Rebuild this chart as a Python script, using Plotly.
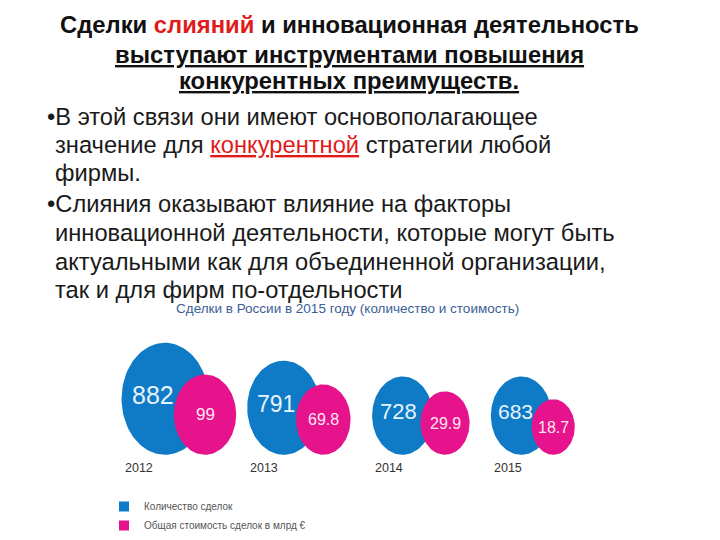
import numpy as np
import plotly.graph_objects as go

# ---------------- data ----------------
years = [2012, 2013, 2014, 2015]
deal_counts = [882, 791, 728, 683]          # количество сделок
deal_values = [99, 69.8, 29.9, 18.7]        # общая стоимость, млрд €
count_labels = ["882", "791", "728", "683"]
value_labels = ["99", "69.8", "29.9", "18.7"]
series_names = ["Количество сделок", "Общая стоимость сделок в млрд €"]
chart_title = "Сделки в России в 2015 году (количество и стоимость)"

heading_lines = [
    "Сделки <span style='color:#e01b1b'>слияний</span> и инновационная деятельность",
    "выступают инструментами повышения",
    "конкурентных преимуществ.",
]
body_lines = [
    "•В этой связи они имеют основополагающее",
    "значение для <span style='color:#e3191a;text-decoration:underline'>конкурентной</span> стратегии любой",
    "фирмы.",
    "•Слияния оказывают влияние на факторы",
    "инновационной деятельности, которые могут быть",
    "актуальными как для объединенной организации,",
    "так и для фирм по-отдельности",
]

# ---------------- layout / style ----------------
W, H = 720, 540
BLUE, PINK = "#0f7ac6", "#e6138c"
NARROW = "Liberation Sans, Arial, sans-serif"
SANS = "Liberation Sans, Arial, sans-serif"

PX_PER_YEAR = 118.75
X0_PX = 165.0                       # pixel position of first year
x_lo = years[0] - X0_PX / PX_PER_YEAR
x_hi = x_lo + W / PX_PER_YEAR

BASE_PX = 459                       # common bottom of bubbles
ASPECT = 1.3                        # bubbles are slightly tall ellipses
BLUE_RY = [56.5, 47.5, 39.5, 39.5]
PINK_RY = [40.5, 35.5, 32.0, 28.0]
PINK_DX = [40, 39.5, 42.5, 32]
BLUE_TXT_DX = [-12, -7.5, -4, -5.5]
BLUE_TXT_SIZE = [25, 23, 22, 21]
PINK_TXT_SIZE = [17, 16, 16, 16]


def ellipse(cx, cy, rx_px, ry_px):
    t = np.linspace(0, 2 * np.pi, 121)
    return (list(cx + rx_px / PX_PER_YEAR * np.cos(t)) + [None],
            list(cy + ry_px * np.sin(t)) + [None])


fig = go.Figure()

centers = {"blue": [], "pink": []}
bx, by, px_, py_ = [], [], [], []
for i, yr in enumerate(years):
    cyb = BASE_PX - BLUE_RY[i]
    ex, ey = ellipse(yr, cyb, BLUE_RY[i] / ASPECT, BLUE_RY[i])
    bx += ex; by += ey
    centers["blue"].append((yr, cyb))
    cxp = yr + PINK_DX[i] / PX_PER_YEAR
    cyp = BASE_PX - PINK_RY[i]
    ex, ey = ellipse(cxp, cyp, PINK_RY[i] / ASPECT, PINK_RY[i])
    px_ += ex; py_ += ey
    centers["pink"].append((cxp, cyp))

fig.add_trace(go.Scatter(x=bx, y=by, mode="lines", fill="toself", fillcolor=BLUE,
                         line=dict(width=0, color=BLUE), hoverinfo="skip",
                         showlegend=False))
fig.add_trace(go.Scatter(x=px_, y=py_, mode="lines", fill="toself", fillcolor=PINK,
                         line=dict(width=0, color=PINK), hoverinfo="skip",
                         showlegend=False))

# legend entries
fig.add_trace(go.Scatter(x=[None], y=[None], mode="markers", name=series_names[0],
                         marker=dict(symbol="square", size=10, color=BLUE)))
fig.add_trace(go.Scatter(x=[None], y=[None], mode="markers", name=series_names[1],
                         marker=dict(symbol="square", size=10, color=PINK)))

# value labels
for i, yr in enumerate(years):
    cx, cy = centers["blue"][i]
    fig.add_annotation(x=cx, y=cy - 4, xref="x", yref="y", text=count_labels[i],
                       showarrow=False, xshift=BLUE_TXT_DX[i],
                       font=dict(family=NARROW, size=BLUE_TXT_SIZE[i], color="#e6f3ff"))
    cx, cy = centers["pink"][i]
    fig.add_annotation(x=cx, y=cy, xref="x", yref="y", text=value_labels[i],
                       showarrow=False,
                       font=dict(family=NARROW, size=PINK_TXT_SIZE[i], color="#ffe6f2"))
    # year label under blue bubble, left aligned with it
    fig.add_annotation(x=yr, y=BASE_PX + 13, xref="x", yref="y", text=str(yr),
                       showarrow=False, xanchor="left", yanchor="middle",
                       xshift=-BLUE_RY[i] / ASPECT + 1,
                       font=dict(family=NARROW, size=12.5, color="#333333"))

# chart title (inside infographic)
fig.add_annotation(x=347.5 / W, y=1 - 311 / H, xref="paper", yref="paper",
                   text=chart_title, showarrow=False, xanchor="center", yanchor="middle",
                   font=dict(family=NARROW, size=13.5, color="#3a5e96"))

# heading
head_y = [25, 55, 81]
for k, line in enumerate(heading_lines):
    fig.add_annotation(x=349 / W, y=1 - head_y[k] / H, xref="paper", yref="paper",
                       text="<b>" + line + "</b>", showarrow=False,
                       xanchor="center", yanchor="middle",
                       font=dict(family=SANS, size=23.8, color="#111111",
                                 lineposition="under" if k > 0 else "none"))

# body
body_y = [118, 146, 175, 206, 235, 264, 293]
for k, line in enumerate(body_lines):
    x_px = 45 if line.startswith("•") else 53
    fig.add_annotation(x=x_px / W, y=1 - body_y[k] / H, xref="paper", yref="paper",
                       text=line, showarrow=False, xanchor="left", yanchor="middle",
                       font=dict(family=SANS, size=23.7, color="#1a1a1a"))

fig.update_layout(
    width=W, height=H,
    margin=dict(l=0, r=0, t=0, b=0),
    paper_bgcolor="white", plot_bgcolor="white",
    xaxis=dict(visible=False, range=[x_lo, x_hi], fixedrange=True),
    yaxis=dict(visible=False, range=[H, 0], fixedrange=True),
    showlegend=True,
    legend=dict(x=104 / W, y=1 - 497 / H, xanchor="left", yanchor="top",
                font=dict(family=NARROW, size=10, color="#555555"),
                bgcolor="rgba(0,0,0,0)", tracegroupgap=0, itemsizing="trace"),
)

fig.write_html("out.html")
